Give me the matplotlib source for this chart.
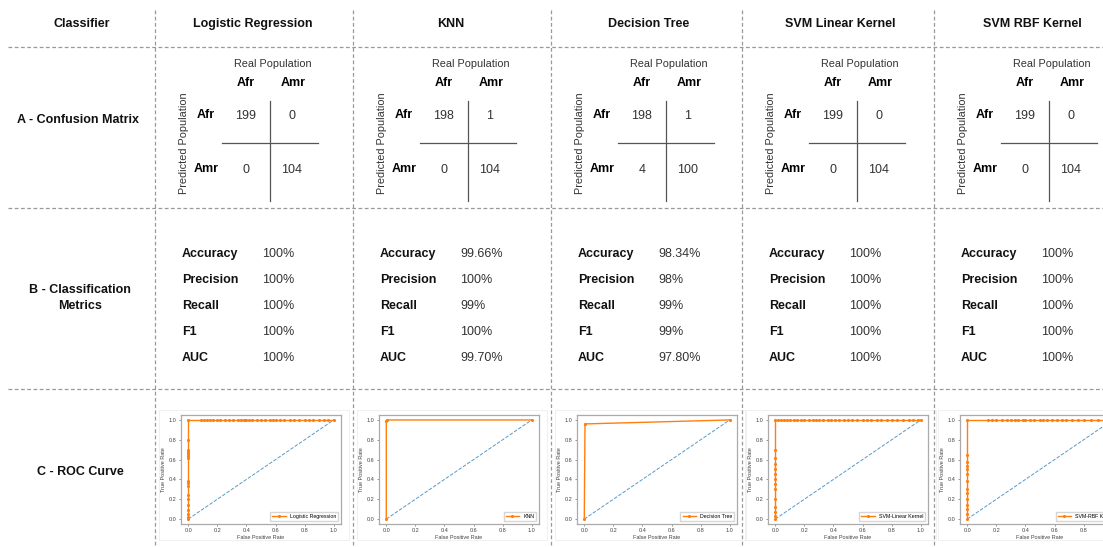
import numpy as np
import matplotlib.pyplot as plt

plt.rcParams['font.family'] = ['Liberation Sans', 'DejaVu Sans']

W, H = 1103, 547

classifiers = ['Logistic Regression', 'KNN', 'Decision Tree', 'SVM Linear Kernel', 'SVM RBF Kernel']
row_titles = ['A - Confusion Matrix', 'B - Classification\nMetrics', 'C - ROC Curve']

# confusion matrix cells (predicted row, real column)
cm_afr_afr = [199, 198, 198, 199, 199]
cm_afr_amr = [0, 1, 1, 0, 0]
cm_amr_afr = [0, 0, 4, 0, 0]
cm_amr_amr = [104, 104, 100, 104, 104]

metric_names = ['Accuracy', 'Precision', 'Recall', 'F1', 'AUC']
accuracy = ['100%', '99.66%', '98.34%', '100%', '100%']
precision = ['100%', '100%', '98%', '100%', '100%']
recall = ['100%', '99%', '99%', '100%', '100%']
f1 = ['100%', '100%', '99%', '100%', '100%']
auc = ['100%', '99.70%', '97.80%', '100%', '100%']

# ROC points
lr_fpr = [0, 0, 0, 0, 0, 0, 0, 0, 0, 0, 0, 0, 0, 0, 0, 0, 0,
          0.09, 0.11, 0.13, 0.15, 0.17, 0.2, 0.22, 0.25, 0.28, 0.31, 0.34, 0.36, 0.38, 0.39, 0.4,
          0.42, 0.44, 0.47, 0.5, 0.53, 0.56, 0.58, 0.6, 0.63, 0.66, 0.7, 0.73, 0.76, 0.8, 0.83,
          0.86, 0.9, 0.93, 0.96, 1.0]
lr_tpr = [0, 0.02, 0.05, 0.09, 0.14, 0.2, 0.24, 0.33, 0.36, 0.38, 0.62, 0.64, 0.66, 0.68, 0.7, 0.8, 1.0,
          1, 1, 1, 1, 1, 1, 1, 1, 1, 1, 1, 1, 1, 1, 1,
          1, 1, 1, 1, 1, 1, 1, 1, 1, 1, 1, 1, 1, 1, 1,
          1, 1, 1, 1, 1]
knn_fpr = [0, 0, 0.005, 1.0]
knn_tpr = [0, 0.99, 1.0, 1.0]
dt_fpr = [0, 0.005, 1.0]
dt_tpr = [0, 0.96, 1.0]
svl_fpr = [0, 0, 0, 0, 0, 0, 0, 0, 0, 0, 0, 0, 0, 0,
           0.02, 0.04, 0.06, 0.08, 0.1, 0.13, 0.15, 0.18, 0.2, 0.23, 0.26, 0.28, 0.3, 0.33, 0.36,
           0.38, 0.41, 0.44, 0.47, 0.5, 0.53, 0.56, 0.6, 0.63, 0.66, 0.7, 0.73, 0.77, 0.8, 0.84,
           0.88, 0.92, 0.95, 0.98, 1.0]
svl_tpr = [0, 0.03, 0.07, 0.12, 0.2, 0.3, 0.35, 0.4, 0.45, 0.5, 0.56, 0.62, 0.7, 1.0,
           1, 1, 1, 1, 1, 1, 1, 1, 1, 1, 1, 1, 1, 1, 1,
           1, 1, 1, 1, 1, 1, 1, 1, 1, 1, 1, 1, 1, 1, 1,
           1, 1, 1, 1, 1]
svr_fpr = [0, 0, 0, 0, 0, 0, 0, 0, 0, 0, 0, 0, 0, 0,
           0.14, 0.17, 0.2, 0.24, 0.27, 0.3, 0.33, 0.35, 0.38, 0.4, 0.43, 0.46, 0.5, 0.52,
           0.55, 0.58, 0.62, 0.65, 0.68, 0.72, 0.76, 0.8, 0.85, 0.9, 0.95, 1.0]
svr_tpr = [0, 0.05, 0.1, 0.14, 0.2, 0.26, 0.3, 0.38, 0.45, 0.5, 0.54, 0.58, 0.65, 1.0,
           1, 1, 1, 1, 1, 1, 1, 1, 1, 1, 1, 1, 1, 1,
           1, 1, 1, 1, 1, 1, 1, 1, 1, 1, 1, 1]
roc_fpr = [lr_fpr, knn_fpr, dt_fpr, svl_fpr, svr_fpr]
roc_tpr = [lr_tpr, knn_tpr, dt_tpr, svl_tpr, svr_tpr]
roc_labels = ['Logistic Regression', 'KNN', 'Decision Tree', 'SVM-Linear Kernel', 'SVM-RBF Kernel']

col_left = [155, 353, 551, 742, 934]
row_lines = [47, 208, 389]

fig = plt.figure(figsize=(W / 100, H / 100), dpi=100)
ax = fig.add_axes([0, 0, 1, 1])
ax.set_xlim(0, W)
ax.set_ylim(H, 0)
ax.axis('off')

grid = dict(color='#999999', lw=0.9, ls=(0, (3, 2)))
for y in row_lines:
    ax.plot([8, W], [y, y], **grid)
for x in col_left:
    ax.plot([x, x], [10, H], **grid)

hdr = dict(fontsize=9, fontweight='bold', ha='center', va='center', color='#111111')
ax.text(82, 24, 'Classifier', **hdr)
ax.text(78, 120, row_titles[0], **hdr)
ax.text(80, 298, row_titles[1], linespacing=1.35, **hdr)
ax.text(80, 472, row_titles[2], **hdr)

for i, name in enumerate(classifiers):
    L = col_left[i]
    ax.text(L + 98, 24, name, **hdr)

    # confusion matrix
    ax.text(L + 118, 64, 'Real Population', fontsize=7.8, ha='center', va='center', color='#333333')
    ax.text(L + 91, 83, 'Afr', fontsize=9, fontweight='bold', ha='center', va='center')
    ax.text(L + 138, 83, 'Amr', fontsize=9, fontweight='bold', ha='center', va='center')
    ax.text(L + 29, 143, 'Predicted Population', fontsize=7.8, rotation=90,
            ha='center', va='center', color='#333333')
    ax.text(L + 51, 115, 'Afr', fontsize=9, fontweight='bold', ha='center', va='center')
    ax.text(L + 51, 169, 'Amr', fontsize=9, fontweight='bold', ha='center', va='center')
    ax.plot([L + 115, L + 115], [101, 201], color='#555555', lw=0.9)
    ax.plot([L + 67, L + 163], [143, 143], color='#555555', lw=0.9)
    cell = dict(fontsize=9, ha='center', va='center', color='#333333')
    ax.text(L + 91, 116, str(cm_afr_afr[i]), **cell)
    ax.text(L + 137, 116, str(cm_afr_amr[i]), **cell)
    ax.text(L + 91, 170, str(cm_amr_afr[i]), **cell)
    ax.text(L + 137, 170, str(cm_amr_amr[i]), **cell)

    # metrics
    vals = [accuracy[i], precision[i], recall[i], f1[i], auc[i]]
    for j, (m, v) in enumerate(zip(metric_names, vals)):
        y = 254 + j * 26
        ax.text(L + 27, y, m, fontsize=9, fontweight='bold', ha='left', va='center', color='#111111')
        ax.text(L + 107, y, v, fontsize=9, ha='left', va='center', color='#333333')

    # ROC inset
    ax.add_patch(plt.Rectangle((L + 4, 410), 190, 130, fill=False, ec='#eeeeee', lw=0.6))
    x0, y0, w, h = L + 26, 415, 160, 109
    rax = fig.add_axes([x0 / W, 1 - (y0 + h) / H, w / W, h / H])
    rax.plot([0, 1], [0, 1], ls='--', color='#1f77b4', lw=0.7, alpha=0.75)
    rax.plot(roc_fpr[i], roc_tpr[i], marker='.', ms=2.5, color='#ff7f0e', lw=1.0, label=roc_labels[i])
    rax.set_xlim(-0.05, 1.05)
    rax.set_ylim(-0.05, 1.05)
    rax.set_xticks([0, 0.2, 0.4, 0.6, 0.8, 1.0])
    rax.set_yticks([0, 0.2, 0.4, 0.6, 0.8, 1.0])
    rax.tick_params(labelsize=4, length=1.5, width=0.4, pad=1.5, colors='#444444')
    rax.set_xlabel('False Positive Rate', fontsize=4, labelpad=1, color='#444444')
    rax.set_ylabel('True Positive Rate', fontsize=4, labelpad=2, color='#444444')
    for s in rax.spines.values():
        s.set_color('#aaaaaa')
        s.set_linewidth(0.9)
    rax.legend(loc='lower right', fontsize=3.8, frameon=True, fancybox=False,
               edgecolor='#cccccc', borderpad=0.4, handlelength=2.5)

fig.savefig('out.png', dpi=100)
